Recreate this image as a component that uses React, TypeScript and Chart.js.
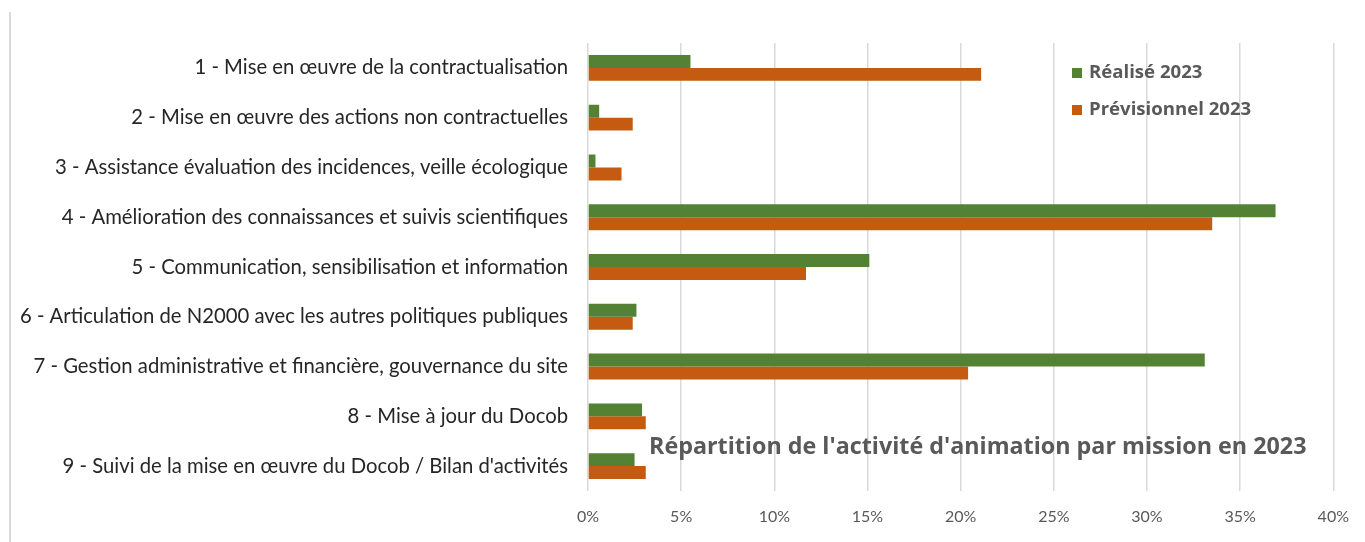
import React, { useEffect, useRef } from "react";
import { Chart, registerables } from "chart.js";

Chart.register(...registerables);

const categories = [
  "1 - Mise en œuvre de la contractualisation",
  "2 - Mise en œuvre des actions non contractuelles",
  "3 - Assistance évaluation des incidences, veille écologique",
  "4 - Amélioration des connaissances et suivis scientifiques",
  "5 - Communication, sensibilisation et information",
  "6 - Articulation de N2000 avec les autres politiques publiques",
  "7 - Gestion administrative et financière, gouvernance du site",
  "8 - Mise à jour du Docob",
  "9 - Suivi de la mise en œuvre du Docob / Bilan d'activités",
];

const realise2023 = [5.5, 0.6, 0.4, 36.9, 15.1, 2.6, 33.1, 2.9, 2.5];
const previsionnel2023 = [21.1, 2.4, 1.8, 33.5, 11.7, 2.4, 20.4, 3.1, 3.1];

const seriesNames = ["Réalisé 2023", "Prévisionnel 2023"];
const seriesColors = ["#548235", "#C55A11"];

const xMin = 0;
const xMax = 40;
const xStep = 5;

const chartTitle = "Répartition de l'activité d'animation par mission en 2023";

const LABEL_FONT = "Lato, 'Open Sans', sans-serif";
const BOLD_FONT = "'Open Sans', Lato, sans-serif";

const overlayPlugin = {
  id: "overlayText",
  afterDraw(chart: any) {
    const ctx = chart.ctx;
    const area = chart.chartArea;
    ctx.save();
    // legend
    ctx.font = `bold 18.6px ${BOLD_FONT}`;
    ctx.textBaseline = "middle";
    ctx.textAlign = "left";
    const lx = area.left + 484;
    const ly = [area.top + 30, area.top + 67];
    chart.data.datasets.forEach((ds: any, i: number) => {
      ctx.fillStyle = ds.backgroundColor;
      ctx.fillRect(lx, ly[i] - 5, 10, 10);
      ctx.fillStyle = "#595959";
      ctx.fillText(ds.label, lx + 17, ly[i]);
    });
    // title
    ctx.font = `bold 23.3px ${BOLD_FONT}`;
    ctx.fillStyle = "#595959";
    ctx.textAlign = "left";
    ctx.fillText(chartTitle, area.left + 61, area.top + 404);
    ctx.restore();
  },
};

export default function App() {
  const canvasRef = useRef<HTMLCanvasElement | null>(null);

  useEffect(() => {
    const canvas = canvasRef.current;
    if (!canvas) return;
    const chart = new Chart(canvas, {
      type: "bar",
      data: {
        labels: categories,
        datasets: [
          {
            label: seriesNames[0],
            data: realise2023,
            backgroundColor: seriesColors[0],
            categoryPercentage: 0.52,
            barPercentage: 1,
          },
          {
            label: seriesNames[1],
            data: previsionnel2023,
            backgroundColor: seriesColors[1],
            categoryPercentage: 0.52,
            barPercentage: 1,
          },
        ],
      },
      options: {
        indexAxis: "y",
        animation: false,
        responsive: false,
        maintainAspectRatio: false,
        layout: { padding: { top: 43, right: 25, left: 0, bottom: 0 } },
        plugins: {
          legend: { display: false },
          title: { display: false },
          tooltip: { enabled: false },
        },
        scales: {
          x: {
            min: xMin,
            max: xMax,
            border: { display: false },
            grid: { color: "#d9d9d9", lineWidth: 1.5, drawTicks: false },
            ticks: {
              stepSize: xStep,
              padding: 16,
              color: "#595959",
              font: { family: LABEL_FONT, size: 16 },
              callback: (v: any) => `${v}%`,
            },
            afterFit: (s: any) => {
              s.height = 51;
            },
          },
          y: {
            border: { display: false },
            grid: { display: false, drawTicks: false },
            ticks: {
              padding: 20,
              color: "#262626",
              font: { family: LABEL_FONT, size: 20.3 },
              autoSkip: false,
            },
            afterFit: (s: any) => {
              s.width = 588;
            },
          },
        },
      },
      plugins: [overlayPlugin],
    });
    return () => chart.destroy();
  }, []);

  return (
    <div style={{ position: "absolute", left: 0, top: 0, width: 1365, height: 542, background: "#fff" }}>
      <div
        style={{
          position: "absolute",
          left: 9,
          top: 12,
          width: 0,
          height: 530,
          borderLeft: "2px solid #d9d9d9",
        }}
      />
      <canvas ref={canvasRef} width={1365} height={542} style={{ position: "absolute", left: 0, top: 0 }} />
    </div>
  );
}
